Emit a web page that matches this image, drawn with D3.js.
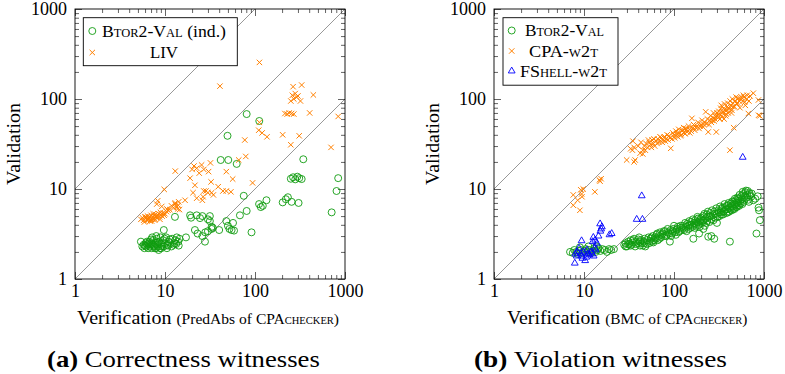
<!DOCTYPE html>
<html><head><meta charset="utf-8">
<script src="https://cdn.jsdelivr.net/npm/d3@7"></script>
<style>
body{margin:0;background:#fff}
svg{display:block}
text, tspan{font-family:"Liberation Serif",serif}
text{fill:#000}
.sc{font-variant-caps:small-caps}
</style>
</head><body>
<svg id="c" width="785" height="374"></svg>
<script>
// ---- tick labels ----
const tickValues = [1, 10, 100, 1000];
const tickLabels = ["1", "10", "100", "1000"];

// ---- series names ----
const corrNames = ["Btor2-Val", "LIV"];
const violNames = ["Btor2-Val", "CPA-w2t", "FShell-w2t"];

// ---- (a) correctness witnesses: [verification, validation] ----
const corrBtor = [
[5.4,2.6],[5.6,2.3],[5.8,2.4],[5.9,2.2],[6.1,2.5],[6.2,2.3],[6.4,2.4],[6.5,2.2],[6.7,2.6],[6.8,2.3],
[7.0,2.5],[7.1,2.2],[7.3,2.4],[7.4,2.7],[7.6,2.3],[7.8,2.5],[7.9,2.2],[8.1,2.8],[8.2,2.4],[8.4,2.3],
[8.6,2.6],[8.8,2.2],[9.0,2.5],[9.2,2.4],[9.5,2.7],[9.7,2.3],[10.0,2.5],[10.3,2.9],[10.6,2.4],[11.0,2.6],
[11.5,2.5],[12.0,2.8],[12.5,2.4],[13.0,2.7],[13.5,2.9],[14.0,2.6],[14.5,2.8],[17.1,2.9],[7.2,2.9],[8.0,3.0],
[6.3,2.6],[7.7,2.2],[9.3,2.3],[6.9,2.4],[8.5,2.1],[10.5,2.2],[11.8,2.3],[12.8,2.5],[9.9,2.8],[8.9,2.9],
[6.0,2.35],[6.6,2.5],[7.5,2.35],[8.3,2.55],[9.1,2.2],[10.8,2.35],[11.3,2.75],[13.3,2.45],[14.2,2.35],[7.0,2.75],
[9.7,3.5],[12.9,4.9],
[19,5.1],[19.5,4.8],[22.5,5.1],[24.5,4.75],[26,5.0],[30,4.6],[31.5,5.0],[31.5,4.4],[33,3.8],
[21.5,3.5],[23,3.2],[26,3.0],[28,3.3],[30,3.4],[33,3.6],[34,3.7],[27.8,2.6],
[40,3.5],[48,4.4],[50,3.9],[52,3.6],[55,3.5],[57,4.2],[58.5,3.45],[91.5,3.3],
[68,5.1],[80.8,5.7],[75,8.4],
[111,6.8],[116,6.3],[122,6.5],[134,7.5],
[203,7.1],[220,7.7],[232,8.1],[255,7.2],[305,7.0],
[41.6,21],[50.5,21],[62.6,19],[49.5,39],[80.8,68],[111.6,57],
[344,21.4],[250,13],[265,13.5],[280,12.8],[295,13.7],[310,13.2],[330,12.9],
[840,13.2],[805,9.5],[711,5.5]
];
const corrLiv = [
[5.4,4.6],[5.6,4.8],[5.8,4.5],[6.0,4.9],[6.1,4.7],[6.3,4.5],[6.4,5.0],[6.6,4.7],[6.7,4.9],[6.9,4.6],
[7.0,5.1],[7.2,4.8],[7.3,4.6],[7.5,5.0],[7.6,4.7],[7.8,5.2],[7.9,4.9],[8.1,4.8],[8.3,5.1],[8.5,5.3],
[8.7,4.9],[9.0,5.2],[9.3,5.0],[9.6,5.4],[10.0,5.3],[10.4,5.6],[5.9,4.3],[6.8,4.4],[7.7,4.5],[8.8,4.6],
[6.2,4.85],[7.1,4.4],[8.0,5.0],[8.9,5.5],[9.8,5.1],[10.8,5.8],[7.4,5.3],[6.5,4.55],
[8.1,6.8],[8.3,7.4],[9.2,6.4],[10.5,6.0],[11.3,5.9],[11.8,6.5],[12.5,6.2],[13.0,7.0],[13.5,6.3],[14.0,6.6],
[14.5,5.9],[14.2,7.2],[12.9,6.8],[13.8,6.0],[16.7,7.5],[9.8,9.9],
[13,15.8],[19,13.2],[20,16.5],[21,18.0],[22.5,17],[24,15],[25.5,18.5],[27,16.5],[30.5,15.6],[32,19.5],
[20.5,9.1],[21.5,11],
[22.5,7.9],[26,7.5],[26.5,8.2],[27,9.5],[28.5,9.5],[30,9.1],[33,9.1],[34.5,8.6],[32.5,12],[39,10.6],
[44,9.5],[48,9.5],[48,15.6],[56.5,12.9],[94,11.7],[54,9.3],
[66,21],[79,23],[77,35],[110,45],[120,42],[136,38],[112,55],
[203,40],[310,39],[250,31],[700,29],
[215,69],[228,68],[240,70],[255,69],[270,68],[405,70],[840,64],
[250,95],[260,110],[270,100],[280,115],[290,105],[300,108],[320,95],[265,137],[330,143],[445,111],
[40.8,139],[112,255]
];

// ---- (b) violation witnesses ----
const violBtor = [
[7.0,2.0],[7.5,1.95],[7.8,2.1],[8.2,2.0],[8.5,1.9],[8.8,2.05],[9.2,2.1],[9.6,1.95],[10.0,2.05],[10.5,2.15],
[11.0,2.0],[11.5,2.1],[12.0,1.95],[12.5,2.05],[13.0,2.2],[13.5,2.0],[14.0,2.1],[14.5,2.2],[15.2,2.05],[16.0,2.15],
[17.0,2.1],[18.0,2.0],[19.0,2.15],[20.0,2.1],[21.5,2.15],[9.0,2.25],[11.2,2.3],[13.8,2.3],
[28,2.4],[29,2.5],[30,2.3],[31,2.6],[32,2.45],[33,2.7],[34,2.4],[35,2.55],[36,2.8],[37,2.3],
[38,2.6],[40,2.5],[41,2.9],[42,2.35],[43,2.7],[44,2.5],[46,2.6],[47,2.8],[48,2.3],[50,2.7],
[52,2.9],[53,2.5],[55,2.8],[57,2.6],[58,3.0],[60,2.7],[62,2.9],[64,3.1],[66,2.7],[68,3.0],
[70,3.3],[72,2.9],[75,3.2],[78,3.0],[80,3.4],[83,3.1],[86,3.3],[90,2.6],[92,3.5],[95,3.2],
[98,3.6],[102,3.3],[106,3.5],[110,3.8],[115,3.4],[120,3.7],[125,3.9],[130,3.5],[135,3.8],[140,4.1],
[145,3.6],[150,4.0],[155,4.3],[160,3.8],[164,2.8],[168,4.2],[172,4.5],[176,3.9],[180,4.3],[185,4.7],
[190,4.0],[195,4.4],[200,4.8],[205,4.2],[210,5.0],[215,4.5],[220,3.9],[225,4.7],[230,5.2],[235,4.4],
[240,2.95],[245,4.9],[250,5.4],[260,4.6],[270,5.1],[280,5.6],[290,4.8],[300,5.3],[310,5.8],[320,5.0],
[330,5.5],[340,6.0],[350,5.2],[360,5.7],[370,6.3],[380,5.4],[390,6.0],[400,6.6],[410,5.6],[418,2.6],
[420,6.2],[430,6.9],[440,5.8],[450,6.4],[460,7.2],[470,6.0],[480,6.7],[490,7.5],[500,6.3],[510,7.0],
[520,7.8],[530,6.5],[545,7.3],[560,8.3],[575,6.8],[590,8.8],[605,7.6],[620,9.2],[640,8.0],[660,9.5],
[680,7.2],[700,8.5],[730,8.9],[760,7.5],[800,7.8],[825,3.2],[850,8.3],[880,5.8],[900,4.5],[870,6.2],
[29,2.3],[31,2.45],[33,2.35],[35,2.7],[38,2.45],[40,2.75],[42,2.6],[45,2.35],[47,2.5],[50,2.45],
[54,2.65],[56,2.9],[59,2.55],[63,2.8],[65,3.2],[69,2.8],[73,3.1],[77,3.4],[82,3.0],[85,3.6],
[88,3.2],[93,3.0],[97,3.4],[100,3.9],[105,3.1],[108,3.6],[112,3.3],[118,3.9],[122,3.5],[128,3.7],
[133,4.2],[138,3.4],[143,3.9],[148,4.4],[152,3.7],[158,4.0],[162,4.6],[170,3.7],[175,4.1],[182,4.9],
[188,4.3],[193,3.8],[198,4.6],[208,4.4],[212,3.6],[218,5.3],[228,4.2],[233,4.9],[238,5.6],[248,4.3],
[255,5.0],[265,5.8],[275,4.5],[285,5.3],[295,6.1],[305,4.9],[315,5.5],[325,6.4],[335,5.2],[345,6.2],
[355,5.6],[365,6.8],[375,5.9],[385,6.5],[395,5.5],[405,7.0],[425,5.9],[435,6.5],[445,7.3],[455,6.0],
[465,6.8],[475,7.8],[485,6.3],[495,7.1],[505,8.0],[515,6.6],[525,7.4],[535,8.6],[550,6.9],[565,7.7],
[580,9.3],[595,7.2],[615,8.4],[630,9.6],[650,8.6],[670,7.6],[690,9.0],[720,8.2],[280,2.8],[260,3.0],
[300,4.2],[190,3.2]
];
const violCpa = [
[7.6,6.6],[7.6,8.6],[8.5,7.5],[9.0,5.8],[9.2,9.8],[9.5,8.2],[9.8,10.0],[9.4,8.8],[13.2,9.3],[15.1,12.2],
[15.5,13.0],[14.8,12.6],
[29.8,21],[36,20],[37,21],[33,28],[34.5,27],[35,34],[36,29],[42,25],[45,24.5],[45,27],[47,30],[49,32],
[51,29],[53,33],[55,31],[57,35],[59,32],[61,30],[63,34],[66,36],[68,33],[72,37],[75,35],[78,38],
[82,36],[86,35],[88,39],[92,28.3],[95,36],[100,40],[105,44],[110,38],[115,42],[120,40],[125,45],[130,42],
[135,47],[140,43],[148,46],[155,44],[158,61],[163,48],[170,45],[180,50],[190,47],[200,52],[210,49],[220,55],
[225,72],[230,53],[240,43],[250,58],[260,55],[270,62],[280,57],[290,64],[295,43],[300,70],[310,62],[320,68],
[330,79],[340,65],[350,72],[360,60],[370,75],[380,68],[390,82],[400,70],[410,78],[418,27],[430,85],[440,75],
[450,90],[460,48],[470,82],[480,95],[500,88],[520,102],[540,80],[560,105],[590,110],[610,92],[640,100],[670,69],
[700,108],[761,116],[867,97.5],[900,65],[870,66],
[40,30],[43,33],[48,27],[52,35],[56,29],[60,36],[65,32],[70,38],[74,33],[80,34],
[84,40],[90,37],[97,42],[102,37],[108,41],[113,46],[118,39],[123,44],[128,48],[133,41],
[138,46],[145,50],[150,42],[160,47],[165,52],[175,48],[185,55],[195,50],[205,58],[215,52],
[235,60],[245,52],[255,65],[265,58],[275,70],[285,60],[305,66],[315,73],[325,60],[335,85],
[345,70],[355,78],[365,88],[375,65],[385,75],[395,90],[405,80],[420,95],[435,70],[445,100],
[455,82],[475,95],[490,105],[510,90],[530,95],[550,100],[580,95],[600,105],[620,85],[650,110],[680,95]
];
const violFshell = [
[580,22.5],[43.8,8.4],[38.5,4.6],[44.6,4.6],[15.1,4.1],[15.5,3.6],[15.2,3.4],[15.8,3.8],[20.3,3.2],[19.2,3.1],
[12.7,2.9],[13.3,2.7],[13.9,2.5],[12.5,2.6],[14.5,3.0],[9.4,2.66],[7.9,1.5],[8.0,1.9],[8.4,2.0],[8.8,2.2],
[9.4,1.8],[9.6,1.7],[9.9,2.0],[10.3,1.6],[10.6,1.75],[11.0,1.9],[11.5,1.85],[12.0,2.0],[12.3,1.9],[12.8,1.8],
[13.5,2.1],[10.8,2.1],[9.2,1.9],[8.3,1.8],[13.2,2.2]
];

const GREEN = "#109c10", ORANGE = "#ff8000", BLUE = "#0000ff";
const FONT = '"Liberation Serif", serif';
const svg = d3.select("#c");
svg.append("rect").attr("width", 785).attr("height", 374).attr("fill", "#fff");

// stretch a start-anchored text horizontally to a target width
function fitWidth(sel, x0, target) {
  const w = sel.node().getComputedTextLength();
  if (w > 0) sel.attr("transform", `translate(${x0},0) scale(${target / w},1) translate(${-x0},0)`);
}

function marker(sel, type, color) {
  if (type === "circle") {
    sel.append("circle").attr("r", 3.5).attr("fill", "none").attr("stroke", color).attr("stroke-width", 0.9);
  } else if (type === "x") {
    sel.append("path").attr("d", "M-2.7,-2.7L2.7,2.7M-2.7,2.7L2.7,-2.7").attr("stroke", color).attr("stroke-width", 1).attr("fill", "none");
  } else {
    sel.append("path").attr("d", d3.symbol(d3.symbolTriangle, 20)()).attr("fill", "none").attr("stroke", color).attr("stroke-width", 0.9);
  }
}

function drawPanel(p) {
  const S = 270;
  const x = d3.scaleLog().domain([1, 1000]).range([p.left, p.left + S]);
  const y = d3.scaleLog().domain([1, 1000]).range([p.top + S, p.top]);
  const g = svg.append("g").attr("font-family", FONT);
  const cid = "clip" + p.id;
  svg.append("clipPath").attr("id", cid).append("rect")
    .attr("x", p.left).attr("y", p.top).attr("width", S).attr("height", S);

  // diagonals y = 10x, y = x, y = x/10
  const dg = g.append("g").attr("clip-path", `url(#${cid})`);
  [10, 1, 0.1].forEach(f => {
    dg.append("line")
      .attr("x1", x(1)).attr("y1", y(f))
      .attr("x2", x(1000)).attr("y2", y(1000 * f))
      .attr("stroke", "#8c8c8c").attr("stroke-width", 0.9);
  });

  // axes
  const minor = x.ticks().filter(d => !tickValues.includes(d));
  const fmt = d => tickLabels[tickValues.indexOf(d)];
  function styleAxis(a) {
    a.select(".domain").remove();
    a.selectAll("line").attr("stroke", "#222").attr("stroke-width", 0.7);
    a.attr("font-family", FONT).attr("font-size", null);
    a.selectAll("text").style("font-size", "18px");
  }
  const R = p.left + S, B = p.top + S;
  [["axisBottom", x, B, true], ["axisTop", x, p.top, false]].forEach(([fn, sc, pos, lab]) => {
    g.append("g").attr("transform", `translate(0,${pos})`)
      .call(d3[fn](sc).tickValues(tickValues).tickFormat(lab ? fmt : "").tickSizeInner(-7).tickSizeOuter(0).tickPadding(5))
      .call(styleAxis);
    g.append("g").attr("transform", `translate(0,${pos})`)
      .call(d3[fn](sc).tickValues(minor).tickFormat("").tickSizeInner(-4).tickSizeOuter(0))
      .call(styleAxis);
  });
  [["axisLeft", y, p.left, true], ["axisRight", y, R, false]].forEach(([fn, sc, pos, lab]) => {
    g.append("g").attr("transform", `translate(${pos},0)`)
      .call(d3[fn](sc).tickValues(tickValues).tickFormat(lab ? fmt : "").tickSizeInner(-7).tickSizeOuter(0).tickPadding(8))
      .call(styleAxis);
    g.append("g").attr("transform", `translate(${pos},0)`)
      .call(d3[fn](sc).tickValues(minor).tickFormat("").tickSizeInner(-4).tickSizeOuter(0))
      .call(styleAxis);
  });

  // data
  p.series.forEach(s => {
    const pts = g.append("g").selectAll("g").data(s.data).join("g")
      .attr("transform", d => `translate(${x(d[0])},${y(d[1])})`);
    pts.each(function () { marker(d3.select(this), s.type, s.color); });
  });

  // frame
  g.append("rect").attr("x", p.left).attr("y", p.top).attr("width", S).attr("height", S)
    .attr("fill", "none").attr("stroke", "#000").attr("stroke-width", 0.9);

  // legend
  const L = p.legend;
  const lg = g.append("g");
  lg.append("rect").attr("x", L.x).attr("y", L.y).attr("width", L.w).attr("height", L.h)
    .attr("fill", "#fff").attr("stroke", "#000").attr("stroke-width", 0.9);
  p.series.forEach((s, i) => {
    const cy = L.rows[i];
    marker(lg.append("g").attr("transform", `translate(${L.mx},${cy})`), s.type, s.color);
    const t = lg.append("text").attr("y", cy + 5.5).style("font-family", FONT).style("font-size", "17px")
      .attr("textLength", L.texts[i].len).attr("lengthAdjust", "spacingAndGlyphs")
      .attr("x", L.texts[i].x).attr("text-anchor", L.texts[i].anchor || "middle");
    t.append("tspan").attr("class", s.sc ? "sc" : null).text(s.name);
    if (s.suffix) t.append("tspan").text(s.suffix);
  });

  // y label
  g.append("text").attr("transform", `translate(${p.left - 55},${p.top + S / 2}) rotate(-90)`)
    .attr("text-anchor", "middle").style("font-family", FONT).style("font-size", "18px")
    .attr("textLength", 82).attr("lengthAdjust", "spacingAndGlyphs").text("Validation");

  // x label
  const xl = g.append("text").attr("x", p.xlab.x).attr("y", 324).style("font-family", FONT);
  xl.append("tspan").style("font-family", FONT).style("font-size", "18px").text("Verification ");
  xl.append("tspan").style("font-family", FONT).style("font-size", "14px").text(`(${p.xlab.algo} of `);
  xl.append("tspan").style("font-family", FONT).style("font-size", "14px").attr("class", "sc").text("CPAchecker");
  xl.append("tspan").style("font-family", FONT).style("font-size", "14px").text(")");
  fitWidth(xl, p.xlab.x, p.xlab.len);

  // caption
  const cap = g.append("text").attr("x", p.cap.x).attr("y", 367).style("font-family", FONT).style("font-size", "24px");
  cap.append("tspan").style("font-family", FONT).style("font-weight", "700").text(p.cap.tag);
  cap.append("tspan").style("font-family", FONT).text(" " + p.cap.text);
  fitWidth(cap, p.cap.x, p.cap.len);
}

drawPanel({
  id: "a", left: 75, top: 9,
  series: [
    { data: corrBtor, type: "circle", color: GREEN, name: corrNames[0], sc: true, suffix: " (ind.)" },
    { data: corrLiv, type: "x", color: ORANGE, name: corrNames[1], sc: false }
  ],
  legend: { x: 83.3, y: 17.7, w: 154, h: 48, mx: 92.3, rows: [31, 52.5],
    texts: [{ x: 102, len: 124, anchor: "start" }, { x: 164, len: 28 }] },
  xlab: { x: 77, len: 265, algo: "PredAbs" },
  cap: { x: 47, len: 273, tag: "(a)", text: "Correctness witnesses" }
});

drawPanel({
  id: "b", left: 494, top: 9,
  series: [
    { data: violBtor, type: "circle", color: GREEN, name: violNames[0], sc: true },
    { data: violCpa, type: "x", color: ORANGE, name: violNames[1], sc: true },
    { data: violFshell, type: "tri", color: BLUE, name: violNames[2], sc: true }
  ],
  legend: { x: 503, y: 17.7, w: 115, h: 67.5, mx: 511.7, rows: [30.5, 51, 71],
    texts: [{ x: 564.5, len: 79 }, { x: 563.5, len: 69 }, { x: 563.5, len: 87 }] },
  xlab: { x: 507, len: 243, algo: "BMC" },
  cap: { x: 474, len: 253, tag: "(b)", text: "Violation witnesses" }
});
</script>
</body></html>
